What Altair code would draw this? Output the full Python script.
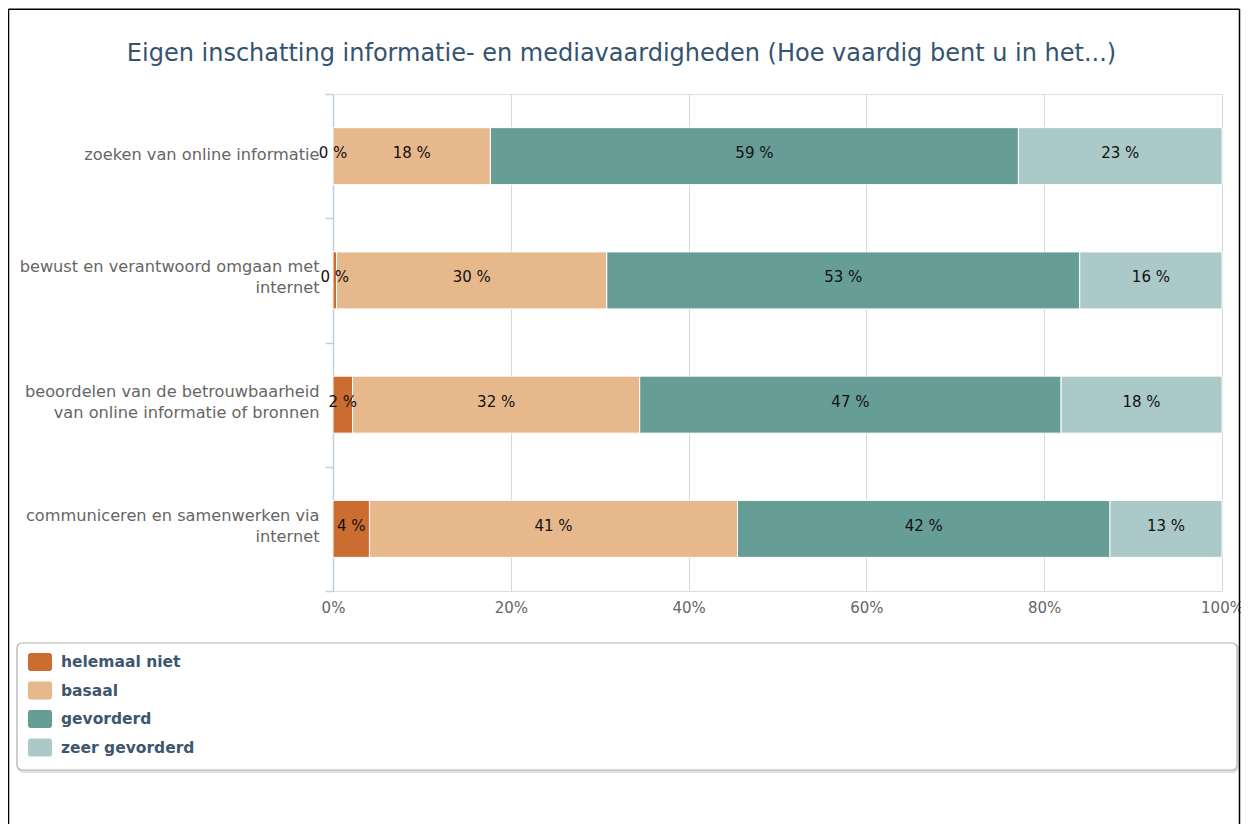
import json
import altair as alt
import pandas as pd

TITLE = "Eigen inschatting informatie- en mediavaardigheden (Hoe vaardig bent u in het...)"

categories = [
    "zoeken van online informatie",
    "bewust en verantwoord omgaan met internet",
    "beoordelen van de betrouwbaarheid van online informatie of bronnen",
    "communiceren en samenwerken via internet",
]
category_lines = [
    ["zoeken van online informatie"],
    ["bewust en verantwoord omgaan met", "internet"],
    ["beoordelen van de betrouwbaarheid", "van online informatie of bronnen"],
    ["communiceren en samenwerken via", "internet"],
]
levels = ["helemaal niet", "basaal", "gevorderd", "zeer gevorderd"]
colors = ["#cb6d31", "#e6b88c", "#679d97", "#aac9c8"]

helemaal_niet = [0.0, 0.4, 2.2, 4.1]
basaal = [17.7, 30.4, 32.3, 41.4]
gevorderd = [59.4, 53.2, 47.4, 41.9]
zeer_gevorderd = [22.9, 16.0, 18.1, 12.6]

x_ticks = [0, 20, 40, 60, 80, 100]

series = [helemaal_niet, basaal, gevorderd, zeer_gevorderd]
rows = []
for i, c in enumerate(categories):
    for j, lev in enumerate(levels):
        rows.append({"categorie": c, "niveau": lev, "waarde": series[j][i], "volgorde": j})
df = pd.DataFrame(rows)

# multi-line category labels
expr = "datum.label"
for c, lines in reversed(list(zip(categories, category_lines))):
    expr = f"datum.label == {json.dumps(c)} ? {json.dumps(lines)} : ({expr})"
single_line = [c for c, lines in zip(categories, category_lines) if len(lines) == 1]
single_test = " || ".join(f"datum.label == {json.dumps(c)}" for c in single_line)

FONT = "DejaVu Sans"

base = alt.Chart(df).transform_stack(
    stack="waarde",
    groupby=["categorie"],
    sort=[alt.SortField("volgorde", order="ascending")],
    as_=["x0", "x1"],
).transform_calculate(
    mid="(datum.x0 + datum.x1) / 2",
    label="format(datum.waarde, '.0f') + ' %'",
)

y_enc = alt.Y(
    "categorie:N",
    sort=categories,
    scale=alt.Scale(domain=categories, paddingInner=0, paddingOuter=0),
    axis=alt.Axis(
        title=None,
        labelExpr=expr,
        labelOffset={"condition": {"test": single_test, "value": -2}, "value": -13.5},
        tickBand="extent",
        domainColor="#c0d0e0",
        domainWidth=1.5,
        tickColor="#c0d0e0",
        tickSize=8,
        tickWidth=1.5,
        labelColor="#666666",
        labelFontSize=16.2,
        labelFont=FONT,
        labelPadding=6,
        labelLimit=400,
        labelLineHeight=21,
        grid=False,
    ),
)

x_enc = alt.X(
    "x0:Q",
    scale=alt.Scale(domain=[0, 100], nice=False),
    axis=alt.Axis(
        values=x_ticks,
        labelExpr="datum.value + '%'",
        title=None,
        grid=True,
        gridColor="#d8d8d8",
        ticks=False,
        domain=False,
        labelColor="#666666",
        labelFontSize=15,
        labelFont=FONT,
        labelPadding=9,
        labelFlush=False,
    ),
)

SYMBOL = ("M-0.8,-0.75H0.8A0.2,0.2,0,0,1,1,-0.55V0.55A0.2,0.2,0,0,1,0.8,0.75"
          "H-0.8A0.2,0.2,0,0,1,-1,0.55V-0.55A0.2,0.2,0,0,1,-0.8,-0.75Z")

bars = base.mark_bar(size=57, stroke="white", strokeWidth=1).encode(
    x=x_enc,
    x2="x1:Q",
    y=y_enc,
    color=alt.Color(
        "niveau:N",
        scale=alt.Scale(domain=levels, range=colors),
        legend=alt.Legend(
            title=None,
            orient="none",
            legendX=-305,
            legendY=556,
            direction="vertical",
            symbolType=SYMBOL,
            symbolSize=576,
            symbolStrokeWidth=0,
            symbolOpacity=1,
            labelFont=FONT,
            labelFontSize=15.5,
            labelFontWeight="bold",
            labelColor="#3e576f",
            labelOffset=9,
            rowPadding=7.5,
            padding=0,
            labelLimit=400,
        ),
    ),
)

texts = base.mark_text(fontSize=15, font=FONT, color="#111111", baseline="middle", dy=-3).encode(
    x="mid:Q",
    y=alt.Y("categorie:N", sort=categories),
    text="label:N",
)

one = pd.DataFrame({"t": [TITLE]})

title_text = alt.Chart(one).mark_text(
    fontSize=24, font=FONT, color="#34536f", align="center", baseline="alphabetic"
).encode(text="t:N", x=alt.value(288.5), y=alt.value(-33))

shadow = alt.Chart(one).mark_rect(
    cornerRadius=6, fillOpacity=0, stroke="#000000", strokeOpacity=0.12, strokeWidth=3
).encode(x=alt.value(-315), x2=alt.value(905.5), y=alt.value(550.5), y2=alt.value(677.5))

legend_box = alt.Chart(one).mark_rect(
    cornerRadius=5, fill="white", stroke="#b3b3b3", strokeWidth=1.2
).encode(x=alt.value(-316), x2=alt.value(904), y=alt.value(549), y2=alt.value(676))

frame_top = alt.Chart(one).mark_rule(color="black", strokeWidth=1.5).encode(
    x=alt.value(-324.5), x2=alt.value(906.5), y=alt.value(-84.7)
)
frame_left = alt.Chart(one).mark_rule(color="black", strokeWidth=1.5).encode(
    x=alt.value(-324.5), y=alt.value(-85), y2=alt.value(730)
)
frame_right = alt.Chart(one).mark_rule(color="black", strokeWidth=1.5).encode(
    x=alt.value(906.5), y=alt.value(-85), y2=alt.value(730)
)

chart = alt.layer(
    shadow, legend_box, bars, texts, title_text, frame_top, frame_left, frame_right
).properties(
    width=889,
    height=497,
    padding={"left": 325, "top": 86, "right": 19, "bottom": 233},
    autosize=alt.AutoSizeParams(type="none"),
).configure_view(stroke="#cccccc", strokeWidth=1).configure(font=FONT)

chart.save("out.html", embed_options={"renderer": "svg", "actions": False})
